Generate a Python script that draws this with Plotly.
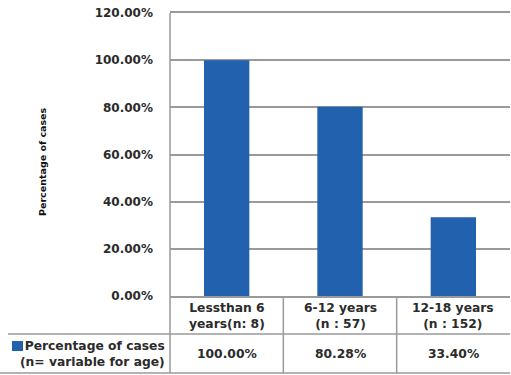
import plotly.graph_objects as go

categories = ["Lessthan 6<br>years(n: 8)", "6-12 years<br>(n : 57)", "12-18 years<br>(n : 152)"]
values = [1.0, 0.8028, 0.334]
y_ticks = [0, 0.2, 0.4, 0.6, 0.8, 1.0, 1.2]
series_name = "Percentage of cases<br>(n= variable for age)"
y_title = "Percentage of cases"

BAR = "#2161ad"
LINE = "#9a9a9a"
TXT = "#2b2b2b"
FONT = "DejaVu Sans"
TSIZE = 12.3

fig = go.Figure()
xs = list(range(len(categories)))
fig.add_trace(go.Bar(x=xs, y=values, marker=dict(color=BAR, line=dict(width=0)),
                     width=0.4, showlegend=False, hoverinfo="skip"))

fig.update_layout(
    width=511, height=375,
    margin=dict(l=170, r=1, t=13, b=79),
    paper_bgcolor="white", plot_bgcolor="white",
    font=dict(family=FONT, color=TXT),
    xaxis=dict(range=[-0.5, 2.5], showticklabels=False, showgrid=False, zeroline=False,
               showline=True, mirror=True, linecolor=LINE, linewidth=1.5, ticks=""),
    yaxis=dict(range=[0, 1.2], tickvals=y_ticks, tickformat=".2%", showgrid=True,
               gridcolor=LINE, gridwidth=1.5, zeroline=False, showline=False,
               ticks="", ticklabelstandoff=16,
               tickfont=dict(family=FONT, size=12, color=TXT, weight="bold")),
)

def px_to_py(y):  # pixel y to paper y
    return (296 - y) / 283.0

def px_to_px(x):
    return (x - 170) / 340.0

shapes = []
# left axis line through table
shapes.append(dict(type="line", xref="paper", yref="paper", x0=0, x1=0,
                   y0=1, y1=px_to_py(373), line=dict(color=LINE, width=1.5)))
# category dividers through both rows
for b in [0.5, 1.5]:
    shapes.append(dict(type="line", xref="x", yref="paper", x0=b, x1=b,
                       y0=0, y1=px_to_py(373), line=dict(color=LINE, width=1.5)))
# row2 top and bottom
shapes.append(dict(type="line", xref="paper", yref="paper", x0=px_to_px(8), x1=1,
                   y0=px_to_py(334), y1=px_to_py(334), line=dict(color=LINE, width=1.5)))
shapes.append(dict(type="line", xref="paper", yref="paper", x0=px_to_px(0), x1=1,
                   y0=px_to_py(373), y1=px_to_py(373), line=dict(color=LINE, width=1.5)))
# legend key
shapes.append(dict(type="rect", xref="paper", yref="paper", x0=px_to_px(12), x1=px_to_px(23),
                   y0=px_to_py(351), y1=px_to_py(341), fillcolor=BAR, line=dict(width=0)))
fig.update_layout(shapes=shapes)

ann = []
for x, c, v in zip(xs, categories, values):
    ann.append(dict(x=x, xref="x", y=px_to_py(316), yref="paper", text=c, showarrow=False,
                    xanchor="center", yanchor="middle",
                    font=dict(family=FONT, size=TSIZE, color=TXT, weight="bold"), align="center"))
    ann.append(dict(x=x, xref="x", y=px_to_py(354), yref="paper", text=f"{v*100:.2f}%",
                    showarrow=False, xanchor="center", yanchor="middle",
                    font=dict(family=FONT, size=TSIZE, color=TXT, weight="bold")))
ann.append(dict(x=px_to_px(167), xref="paper", y=px_to_py(354), yref="paper", text=series_name,
                xanchor="right", yanchor="middle", align="right", showarrow=False,
                font=dict(family=FONT, size=TSIZE, color=TXT, weight="bold")))
ann.append(dict(x=px_to_px(42), xref="paper", y=px_to_py(162), yref="paper", text=y_title,
                textangle=-90, showarrow=False, xanchor="center", yanchor="middle",
                font=dict(family=FONT, size=9.5, color="#111", weight="bold")))
fig.update_layout(annotations=ann)

fig.write_html("out.html")
